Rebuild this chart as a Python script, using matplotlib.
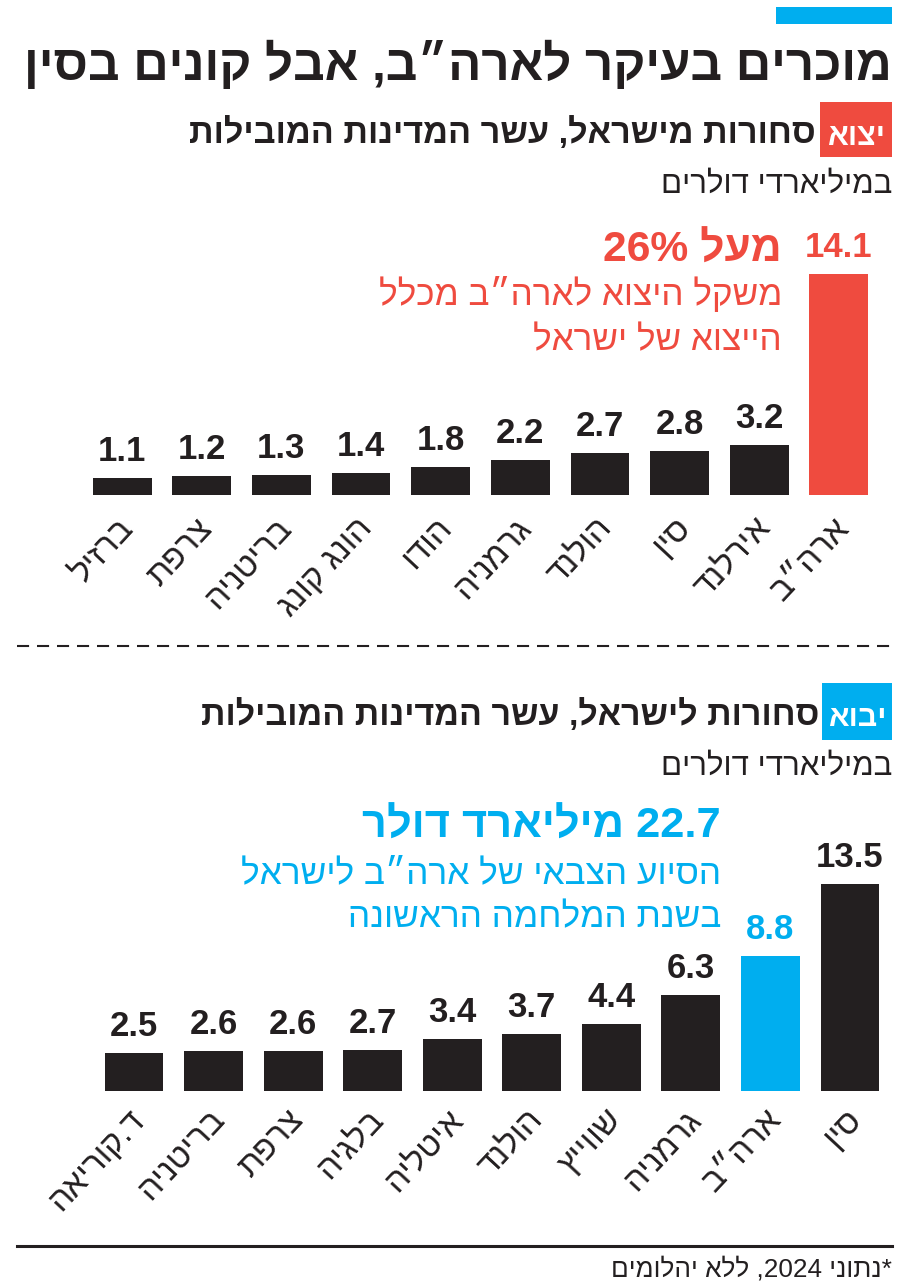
import re
import matplotlib
matplotlib.use("Agg")
import matplotlib.pyplot as plt
from matplotlib.patches import Rectangle
from matplotlib.lines import Line2D
from matplotlib.transforms import ScaledTranslation

# ---------- data ----------
exp_countries = ["ברזיל", "צרפת", "בריטניה", "הונג קונג", "הודו", "גרמניה", "הולנד", "סין", "אירלנד", "ארה״ב"]
exp_values = [1.1, 1.2, 1.3, 1.4, 1.8, 2.2, 2.7, 2.8, 3.2, 14.1]

imp_countries = ["ד.קוריאה", "בריטניה", "צרפת", "בלגיה", "איטליה", "הולנד", "שווייץ", "גרמניה", "ארה״ב", "סין"]
imp_values = [2.5, 2.6, 2.6, 2.7, 3.4, 3.7, 4.4, 6.3, 8.8, 13.5]

title = "מוכרים בעיקר לארה״ב, אבל קונים בסין"
exp_tag = "יצוא"
exp_sub = "סחורות מישראל, עשר המדינות המובילות"
imp_tag = "יבוא"
imp_sub = "סחורות לישראל, עשר המדינות המובילות"
unit = "במיליארדי דולרים"
exp_note = ["מעל 26%", "משקל היצוא לארה״ב מכלל", "הייצוא של ישראל"]
imp_note = ["22.7 מיליארד דולר", "הסיוע הצבאי של ארה״ב לישראל", "בשנת המלחמה הראשונה"]
footnote = "*נתוני 2024, ללא יהלומים"

BLACK = "#231f20"
RED = "#ef4b3f"
BLUE = "#00aeef"

HEB = dict(family=["Liberation Sans", "DejaVu Sans"])
NUM = dict(family=["Liberation Sans Narrow", "Liberation Sans", "DejaVu Sans"], fontweight="bold")


def rtl(s):
    # matplotlib draws left to right: reverse hebrew runs, keep numbers as they are
    parts = re.findall(r"\d+(?:\.\d+)?%?|\D+", s)
    return "".join(p if p[0].isdigit() else p[::-1] for p in parts[::-1])


W, H = 900, 1284
fig = plt.figure(figsize=(W / 100, H / 100), dpi=100)
fig.patch.set_facecolor("white")
renderer = fig.canvas.get_renderer()


def P(x, y):
    return x / W, 1 - y / H


def box(x0, y0, x1, y1):
    return [x0 / W, 1 - y1 / H, (x1 - x0) / W, (y1 - y0) / H]


def text(x, y, s, width=None, size=20, **kw):
    t = fig.text(*P(x, y), rtl(s), fontsize=size, ha=kw.pop("ha", "right"),
                 va="baseline", **HEB, **kw)
    if width:
        w = t.get_window_extent(renderer).width
        t.set_fontsize(size * width / w)
    return t


def rect(x0, y0, x1, y1, color):
    fig.patches.append(Rectangle(P(x0, y1), (x1 - x0) / W, (y1 - y0) / H,
                                 transform=fig.transFigure, color=color, lw=0))


def bars(ax, names, values, colors, label_colors, pad):
    x = range(len(values))
    ax.bar(x, values, width=0.74, color=colors)
    for i, v in enumerate(values):
        ax.annotate(f"{v}", (i, v), xytext=(0, 17 * 0.72), textcoords="offset points",
                    ha="center", va="baseline", fontsize=25, color=label_colors[i], **NUM)
    ax.set_xlim(-0.5, len(values) - 0.5)
    ax.set_xticks(list(x))
    ax.set_xticklabels([rtl(n) for n in names], rotation=47, ha="right", va="center",
                       rotation_mode="anchor", fontsize=24, color=BLACK, **HEB)
    ax.tick_params(axis="x", length=0, pad=pad)
    for lab in ax.get_xticklabels():
        lab.set_transform(lab.get_transform() + ScaledTranslation(6 / 100, 0, fig.dpi_scale_trans))
    ax.set_yticks([])
    for sp in ax.spines.values():
        sp.set_visible(False)
    ax.patch.set_alpha(0)


# ---------- header ----------
rect(776, 7, 892, 24, BLUE)
text(892, 80, title, width=869, size=40, fontweight="bold", color=BLACK)

rect(820, 102, 892, 157, RED)
text(856, 145, exp_tag, width=58, size=30, fontweight="bold", color="white", ha="center")
text(816, 143, exp_sub, width=626, size=30, fontweight="bold", color=BLACK)
text(892, 193, unit, width=232, size=24, color=BLACK)

# ---------- export chart ----------
ax1 = fig.add_axes(box(82.2, 255, 878.8, 495))
ax1.set_ylim(0, 240 / 15.7)
bars(ax1, exp_countries, exp_values,
     [BLACK] * 9 + [RED], [BLACK] * 9 + [RED], pad=20)

t = text(782, 262, exp_note[0], width=179, size=26, fontweight="bold", color=RED)
t = text(782, 305, exp_note[1], width=404, size=26, color=RED)
text(782, 350, exp_note[2], size=t.get_fontsize(), color=RED)

fig.add_artist(Line2D([17 / W, 897 / W], [1 - 646 / H] * 2, transform=fig.transFigure,
                      color=BLACK, lw=1.5, linestyle=(0, (5.8, 3.8))))

# ---------- import chart ----------
rect(822, 683, 892, 740, BLUE)
text(857, 726, imp_tag, width=58, size=30, fontweight="bold", color="white", ha="center")
text(819, 725, imp_sub, width=617, size=30, fontweight="bold", color=BLACK)
text(892, 775, unit, width=232, size=24, color=BLACK)

ax2 = fig.add_axes(box(94.2, 1091 - 14.6 * 15.3, 889.8, 1091))
ax2.set_ylim(0, 14.6)
bars(ax2, imp_countries, imp_values,
     [BLACK] * 8 + [BLUE, BLACK], [BLACK] * 8 + [BLUE, BLACK], pad=17)

text(721, 838, imp_note[0], width=360, size=26, fontweight="bold", color=BLUE)
t = text(721, 883, imp_note[1], width=481, size=26, color=BLUE)
text(721, 927, imp_note[2], size=t.get_fontsize(), color=BLUE)

# ---------- footer ----------
fig.add_artist(Line2D([17 / W, 892 / W], [1 - 1246 / H] * 2, transform=fig.transFigure,
                      color=BLACK, lw=2.2))
text(892, 1276, footnote, width=280, size=18, color=BLACK)

fig.savefig("out.png", dpi=100, facecolor="white")
